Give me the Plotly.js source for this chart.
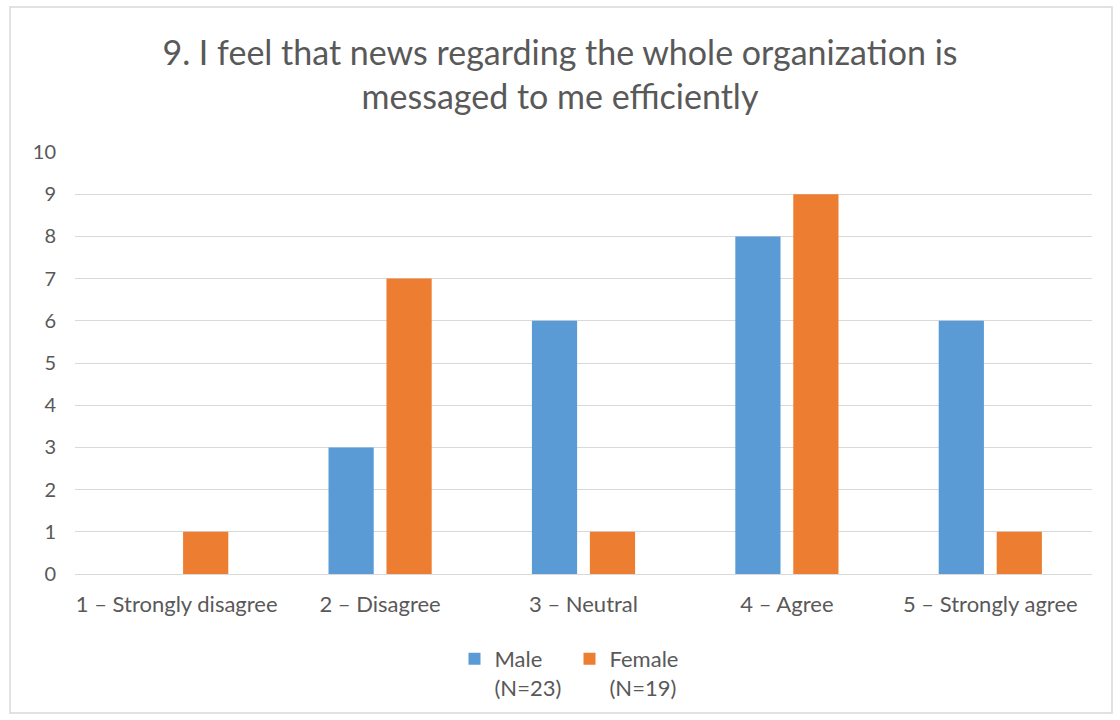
<!DOCTYPE html>
<html><head><meta charset="utf-8">
<script src="https://cdn.plot.ly/plotly-3.0.1.min.js"></script>
<style>body{margin:0;background:#fff}#chart{width:1120px;height:720px}</style>
</head><body><div id="chart"></div>
<script>
const categories = ["1 – Strongly disagree","2 – Disagree","3 – Neutral","4 – Agree","5 – Strongly agree"];
const maleValues = [0,3,6,8,6];
const femaleValues = [1,7,1,9,1];
const seriesNames = ["Male<br>(N=23)","Female<br>(N=19)"];
const titleText = "9. I feel that news regarding the whole organization is<br>messaged to me efficiently";

const FONT = "Lato, 'Open Sans', sans-serif";
const data = [
  {type:'bar', x:categories, y:maleValues, name:seriesNames[0], marker:{color:'#5B9BD5'}},
  {type:'bar', x:categories, y:femaleValues, name:seriesNames[1], marker:{color:'#ED7D31'}}
];
const L=75, R=1092, T=152, B=574, W=R-L, H=B-T;
const layout = {
  width:1120, height:720,
  margin:{l:L, r:1120-R, t:T, b:720-B, pad:0},
  paper_bgcolor:'#fff', plot_bgcolor:'#fff',
  font:{family:FONT, color:'#595959', size:22},
  title:{text:titleText, font:{size:34, color:'#595959', family:FONT}, x:0.5, xanchor:'center', y:1-65/720, yref:'container', yanchor:'top', automargin:false},
  barmode:'group', bargap:0.43, bargroupgap:0.22,
  xaxis:{showgrid:false, showline:false, ticks:'outside', ticklen:11, tickcolor:'rgba(0,0,0,0)', tickfont:{size:22}, fixedrange:true, automargin:false},
  yaxis:{range:[0,10], dtick:1, showgrid:true, gridcolor:'#d9d9d9', gridwidth:1, zeroline:true, zerolinecolor:'#d9d9d9', zerolinewidth:1, showline:false, ticks:'outside', ticklen:14, tickcolor:'rgba(0,0,0,0)', tickfont:{size:20}, automargin:false},
  legend:{orientation:'h', x:0.5-14/W, xanchor:'center', xref:'paper', y:1-638/720, yref:'container', yanchor:'top', font:{size:22}, valign:'top', itemclick:false, bgcolor:'rgba(0,0,0,0)', entrywidth:70, itemwidth:30},
  shapes:[{type:'rect', xref:'paper', yref:'paper', x0:(10-L)/W, x1:(1112-L)/W, y0:(B-713)/H, y1:(B-7)/H, line:{color:'#d9d9d9', width:1.5}, layer:'below'}]
};
Plotly.newPlot('chart', data, layout, {displayModeBar:false, staticPlot:true});
</script></body></html>
